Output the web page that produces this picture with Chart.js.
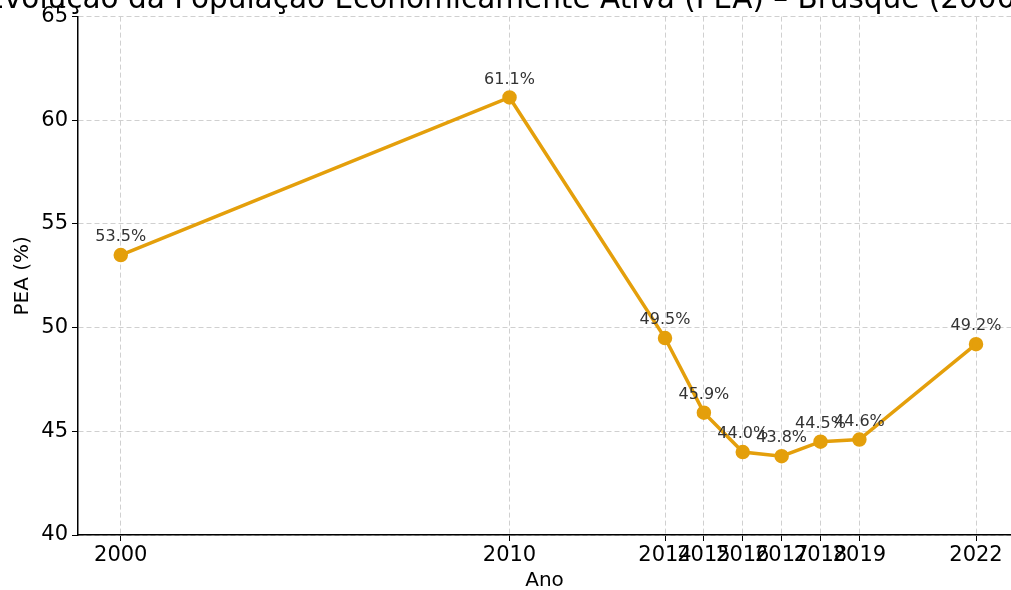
<!DOCTYPE html>
<html>
<head>
<meta charset="utf-8">
<script src="https://cdn.jsdelivr.net/npm/chart.js@4.4.1/dist/chart.umd.min.js"></script>
<style>
  html, body { margin: 0; padding: 0; background: #fff; }
  #wrap { width: 1011px; height: 590px; }
</style>
</head>
<body>
<div id="wrap"><canvas id="peaChart" width="1011" height="590"></canvas></div>
<script>
const anos = [2000, 2010, 2014, 2015, 2016, 2017, 2018, 2019, 2022];
const pea = [53.5, 61.1, 49.5, 45.9, 44.0, 43.8, 44.5, 44.6, 49.2];
const yTicks = [40, 45, 50, 55, 60, 65];
const titulo = 'Evolução da População Economicamente Ativa (PEA) – Brusque (2000–2022)';

const FONT = "'DejaVu Sans', sans-serif";
const LINE_COLOR = '#e49f0b';

// title sits partly above the canvas edge, drawn by hand
const titlePlugin = {
  id: 'tituloTopo',
  afterDraw(chart) {
    const ctx = chart.ctx;
    ctx.save();
    ctx.font = '29.5px ' + FONT;
    ctx.fillStyle = '#000';
    ctx.textAlign = 'center';
    ctx.textBaseline = 'alphabetic';
    ctx.fillText(titulo, 551, 8);
    ctx.restore();
  }
};

// value labels above each point
const valueLabels = {
  id: 'valueLabels',
  afterDatasetsDraw(chart) {
    const ctx = chart.ctx;
    const meta = chart.getDatasetMeta(0);
    ctx.save();
    ctx.font = '16px ' + FONT;
    ctx.fillStyle = '#333';
    ctx.textAlign = 'center';
    ctx.textBaseline = 'middle';
    meta.data.forEach((pt, i) => {
      ctx.fillText(pea[i].toFixed(1) + '%', pt.x, pt.y - 18);
    });
    ctx.restore();
  }
};

new Chart(document.getElementById('peaChart'), {
  type: 'line',
  data: {
    datasets: [{
      data: anos.map((a, i) => ({ x: a, y: pea[i] })),
      borderColor: LINE_COLOR,
      backgroundColor: LINE_COLOR,
      borderWidth: 3.5,
      pointRadius: 5.5,
      pointHoverRadius: 5.5,
      tension: 0,
      clip: false
    }]
  },
  options: {
    responsive: false,
    animation: false,
    layout: { autoPadding: false, padding: { top: 15, right: 0, left: 0, bottom: 0 } },
    plugins: { legend: { display: false }, tooltip: { enabled: false } },
    scales: {
      x: {
        type: 'linear',
        min: 1998.9,
        max: 2022.9,
        afterBuildTicks(scale) { scale.ticks = anos.map(v => ({ value: v })); },
        afterFit(scale) { scale.height = 55; },
        ticks: {
          color: '#000',
          font: { family: FONT, size: 21 },
          padding: 2,
          maxRotation: 0,
          autoSkip: false,
          callback: v => String(v)
        },
        grid: {
          color: '#d0d0d0',
          lineWidth: 1,
          tickLength: 6,
          tickColor: '#000',
          tickBorderDash: [],
          tickWidth: 1
        },
        border: { display: true, color: '#000', width: 1.5, dash: [5, 3] },
        title: {
          display: true,
          text: 'Ano',
          color: '#000',
          font: { family: FONT, size: 20 },
          padding: { top: 0, bottom: -3 }
        }
      },
      y: {
        min: 40,
        max: 65,
        afterBuildTicks(scale) { scale.ticks = yTicks.map(v => ({ value: v })); },
        afterFit(scale) { scale.width = 78; },
        ticks: {
          color: '#000',
          font: { family: FONT, size: 21 },
          padding: 4
        },
        grid: {
          color: '#d0d0d0',
          lineWidth: 1,
          tickLength: 6,
          tickColor: '#000',
          tickBorderDash: [],
          tickWidth: 1
        },
        border: { display: true, color: '#000', width: 1.5, dash: [5, 3] },
        title: {
          display: true,
          text: 'PEA (%)',
          color: '#000',
          font: { family: FONT, size: 20 },
          padding: { top: 11, bottom: 4 }
        }
      }
    }
  },
  plugins: [valueLabels, titlePlugin]
});
</script>
</body>
</html>
